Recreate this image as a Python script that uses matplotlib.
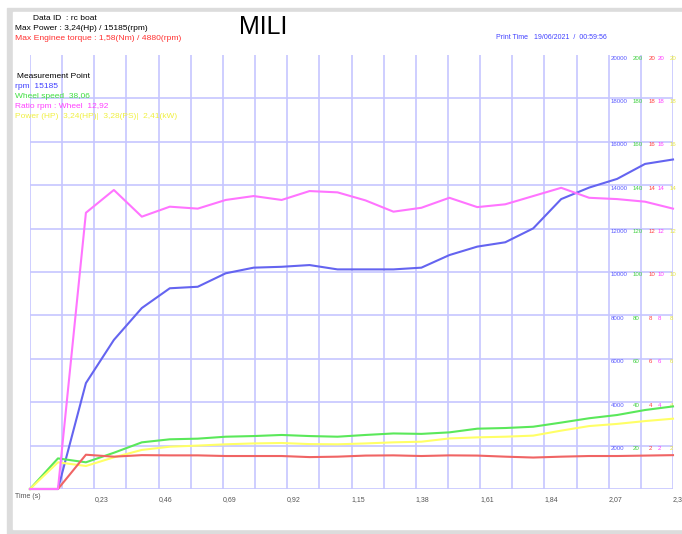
import matplotlib

matplotlib.use("Agg")

import matplotlib.pyplot as plt
import matplotlib.transforms as mtransforms
from matplotlib.patches import Rectangle
import numpy as np

plt.rcParams["font.family"] = ["Liberation Sans", "DejaVu Sans"]

# time axis (s), one sample every 0.1 s
time_s = [0.0, 0.1, 0.2, 0.3, 0.4, 0.5, 0.6, 0.7, 0.8, 0.9, 1.0, 1.1,
          1.2, 1.3, 1.4, 1.5, 1.6, 1.7, 1.8, 1.9, 2.0, 2.1, 2.2, 2.3]

rpm = [0, 0, 4880, 6870, 8340, 9250, 9320, 9940, 10200, 10240, 10320, 10120,
       10120, 10120, 10200, 10780, 11170, 11370, 12010, 13360, 13890, 14290, 14980, 15185]
ratio = [0, 0, 12.73, 13.78, 12.55, 13.01, 12.92, 13.32, 13.50, 13.32, 13.73, 13.67,
         13.30, 12.78, 12.96, 13.42, 12.99, 13.12, 13.50, 13.88, 13.42, 13.36, 13.24, 12.92]
wheel_speed = [0, 14.1, 12.3, 16.7, 21.5, 22.9, 23.2, 24.1, 24.4, 24.9, 24.4, 24.1,
               24.9, 25.6, 25.4, 26.1, 27.8, 28.1, 28.7, 30.6, 32.6, 34.1, 36.4, 38.06]
torque = [0, 0, 1.58, 1.49, 1.56, 1.55, 1.55, 1.52, 1.52, 1.52, 1.47, 1.49,
          1.54, 1.55, 1.52, 1.55, 1.54, 1.49, 1.45, 1.49, 1.52, 1.52, 1.54, 1.56]
power_hp = [0, 1.23, 1.06, 1.46, 1.80, 1.95, 2.00, 2.06, 2.10, 2.12, 2.07, 2.06,
            2.10, 2.15, 2.18, 2.33, 2.38, 2.41, 2.46, 2.69, 2.90, 3.00, 3.13, 3.24]

x_labels = ["0,23", "0,46", "0,69", "0,92", "1,15", "1,38", "1,61", "1,84", "2,07", "2,3"]

BLUE = "#6464f0"
GREEN = "#5ae85a"
RED = "#f06464"
MAGENTA = "#ff74ff"
YELLOW = "#ffff66"
GRID = "#c6c6ff"

W, H = 682, 534
fig = plt.figure(figsize=(W / 100, H / 100), dpi=100)

# screenshot frame
fig.patches.append(Rectangle((7 / W, 0), 1, (H - 8) / H, transform=fig.transFigure,
                             color="#dcdcdc", zorder=-10))
fig.patches.append(Rectangle((13 / W, 5 / H), 1, (H - 17) / H, transform=fig.transFigure,
                             color="white", zorder=-9))

ax = fig.add_axes([30 / W, 1 - 489 / H, 643 / W, 434 / H])
ax.set_xlim(0, 2.3)
ax.set_ylim(0, 20000)
ax.patch.set_visible(False)

ax.set_xticks(np.arange(1, 11) * 0.23)
ax.set_xticklabels(x_labels, ha="left", fontsize=5, color="#555555")
ax.set_xticks(np.arange(0, 21) * 0.115, minor=True)
ax.set_yticks(np.arange(0, 20000, 2000))
ax.set_yticklabels([])
ax.tick_params(axis="both", which="both", length=0, pad=5)
ax.grid(True, which="both", color=GRID, lw=1.2)
for s in ax.spines.values():
    s.set_visible(False)

ax.plot(time_s, rpm, color=BLUE, lw=1.5, clip_on=False)

ax_w = ax.twinx()
ax_w.set_ylim(0, 200)
ax_r = ax.twinx()
ax_r.set_ylim(0, 20)
for a in (ax_w, ax_r):
    a.set_yticks([])
    for s in a.spines.values():
        s.set_visible(False)

ax_w.plot(time_s, wheel_speed, color=GREEN, lw=1.5, clip_on=False)
ax_r.plot(time_s, power_hp, color=YELLOW, lw=1.5, clip_on=False)
ax_r.plot(time_s, torque, color=RED, lw=1.5, clip_on=False)
ax_r.plot(time_s, ratio, color=MAGENTA, lw=1.5, clip_on=False)

# right-hand scale values for every series
trans = mtransforms.offset_copy(ax.transData, fig=fig, y=-3, units="dots")
for lvl in range(2000, 20001, 2000):
    ax.text(2.076, lvl, str(lvl), color="#5a5aff", fontsize=4.4, va="center",
            transform=trans)
    ax.text(2.157, lvl, str(lvl // 100), color="#40d040", fontsize=4.4, va="center",
            transform=trans)
    ax.text(2.212, lvl, str(lvl // 1000), color="#ff4040", fontsize=4.4, va="center",
            transform=trans)
    ax.text(2.246, lvl, str(lvl // 1000), color="#ff40ff", fontsize=4.4, va="center",
            transform=trans)
    ax.text(2.288, lvl, str(lvl // 1000), color="#e8e840", fontsize=4.4, va="center",
            transform=trans)

def ftext(x, y, s, **kw):
    fig.text(x / W, 1 - y / H, s, va="center", **kw)

ftext(15, 497, "Time (s)", fontsize=5, color="#555555")
ftext(33, 18, "Data ID  : rc boat", fontsize=6, color="black")
ftext(15, 28, "Max Power : 3,24(Hp) / 15185(rpm)", fontsize=6, color="black")
ftext(15, 38, "Max Enginee torque : 1,58(Nm) / 4880(rpm)", fontsize=6.1, color="#ff3030")
ftext(239, 27, "MILI", fontsize=18, color="black")
ftext(496, 37, "Print Time   19/06/2021  /  00:59:56", fontsize=5, color="#4040ff")

ftext(17, 76, "Measurement Point", fontsize=6, color="black")
ftext(15, 86, "rpm  15185", fontsize=6, color="#4040ff")
ftext(15, 96, "Wheel speed  38,06", fontsize=6, color="#40e040")
ftext(15, 106, "Ratio rpm : Wheel  12,92", fontsize=6, color="#ff40ff")
ftext(15, 116, "Power (HP)  3,24(HP)|  3,28(PS)|  2,41(kW)", fontsize=6, color="#f0f040")

fig.savefig("out.png", dpi=100)
